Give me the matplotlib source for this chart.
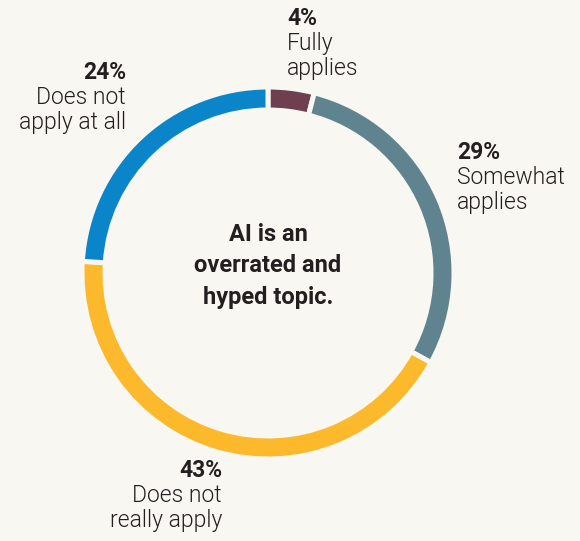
import matplotlib.pyplot as plt

# survey answers, clockwise from 12 o'clock
shares = [4, 29, 43, 24]
pct_labels = ['4%', '29%', '43%', '24%']
answers = ['Fully\napplies', 'Somewhat\napplies', 'Does not\nreally apply', 'Does not\napply at all']
colors = ['#6e3f4e', '#5f8490', '#fdb92c', '#0a85c9']
bg = '#f8f7f1'
ink = '#231f20'

plt.rcParams['font.family'] = ['Roboto', 'DejaVu Sans']

W, H = 580, 541
fig = plt.figure(figsize=(W / 100, H / 100), dpi=100, facecolor=bg)
ax = fig.add_axes([0, 0, 1, 1])
ax.set_facecolor(bg)

cx, cy = 268, H - 273
ax.pie(shares, colors=colors, startangle=90, counterclock=False,
       center=(cx, cy), radius=186, frame=True,
       wedgeprops=dict(width=23, edgecolor=bg, linewidth=3.6))
ax.set_xlim(0, W)
ax.set_ylim(0, H)
ax.set_aspect('equal')
ax.axis('off')

# label anchors (x, top y in px, alignment)
anchors = [(287, 7, 'left'), (457, 141, 'left'), (222, 459, 'right'), (126, 61, 'right')]
for (x, y, ha), pct, txt in zip(anchors, pct_labels, answers):
    ax.text(x, H - y, pct, ha=ha, va='top', fontsize=16.5, fontweight='bold', color=ink)
    ax.text(x, H - y - 25, txt, ha=ha, va='top', fontsize=16.5, fontweight=300,
            color=ink, linespacing=1.1)

ax.text(cx, H - 266, 'AI is an\noverrated and\nhyped topic.', ha='center', va='center',
        fontsize=17, fontweight='bold', color=ink, linespacing=1.45)

fig.savefig('out.png', dpi=100, facecolor=bg)
